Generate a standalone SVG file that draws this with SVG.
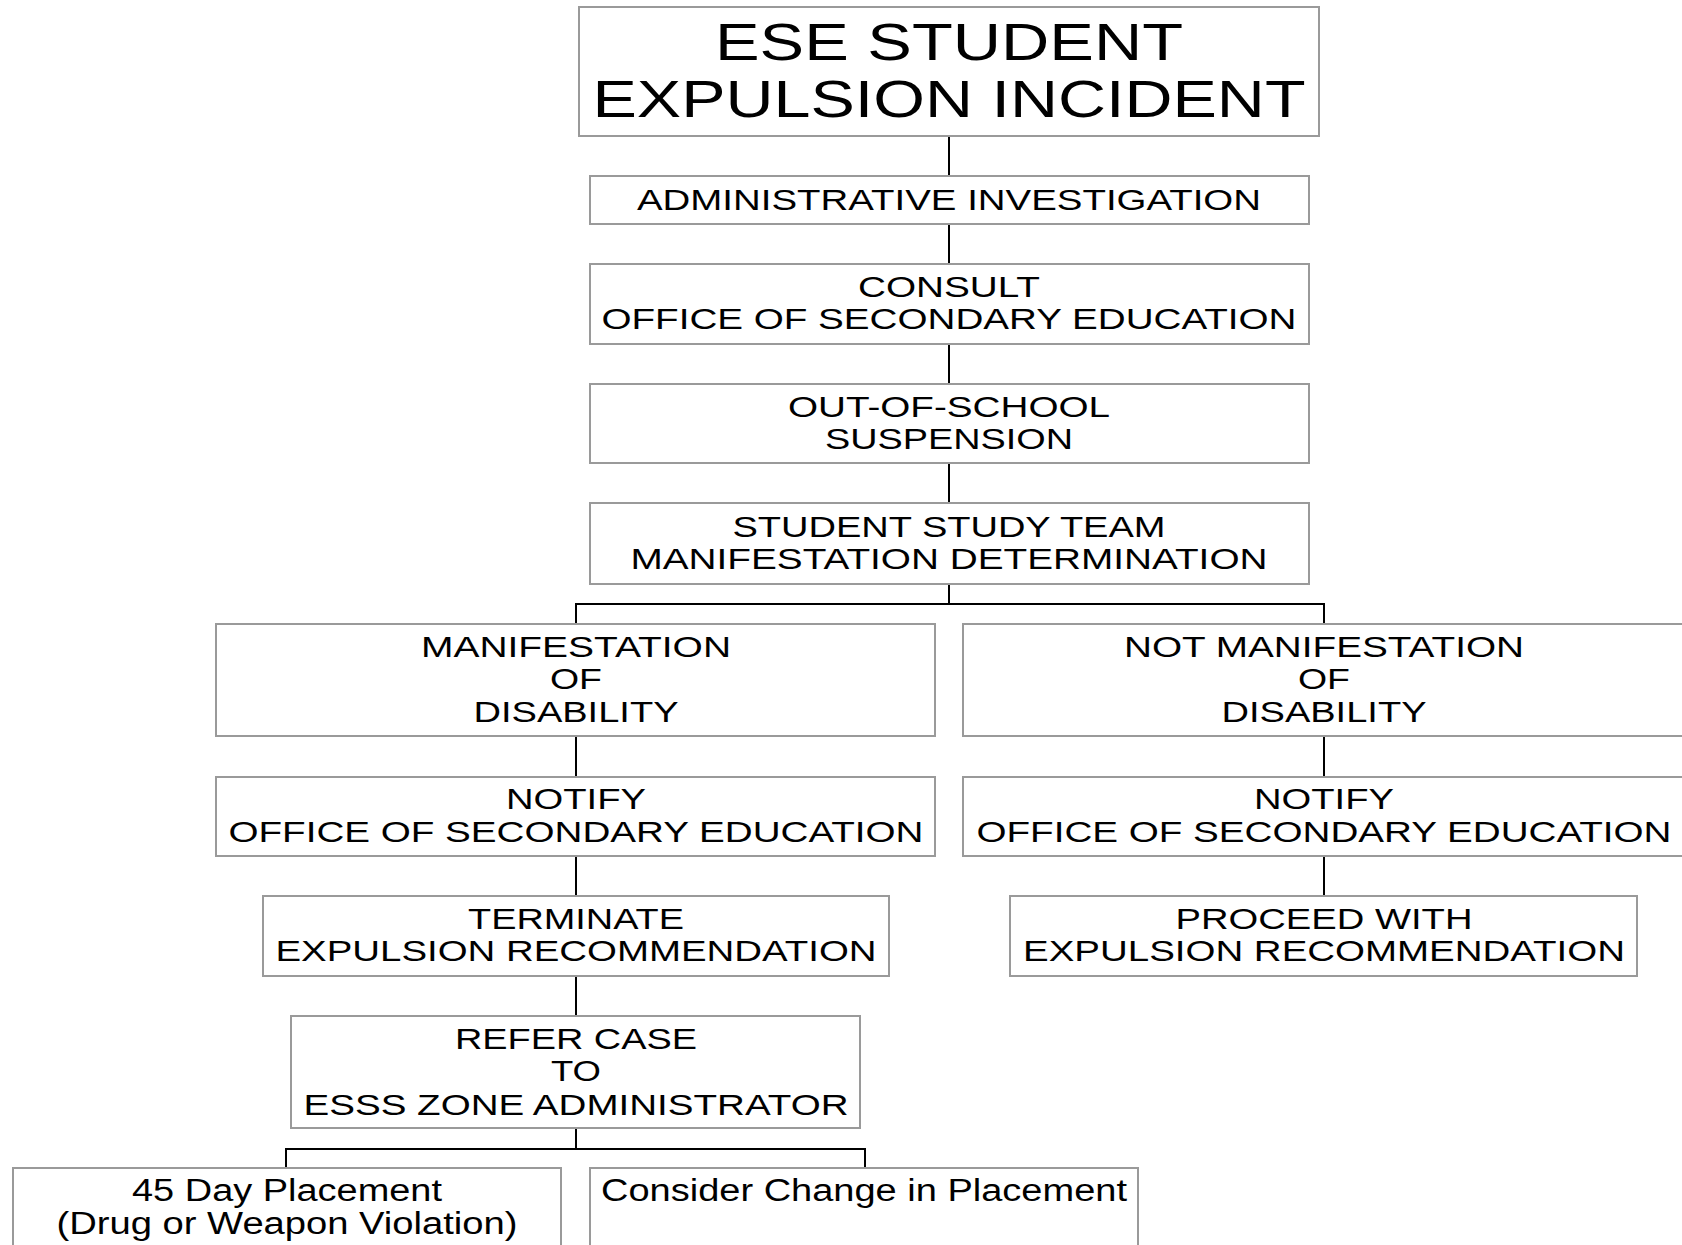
<svg xmlns="http://www.w3.org/2000/svg" width="1682" height="1245" viewBox="0 0 1682 1245">
  <style>
    .box { fill: #ffffff; stroke: #9a9a9a; stroke-width: 2; }
    .wire { fill: none; stroke: #000000; stroke-width: 2; }
    text { font-family: "Liberation Sans", Arial, sans-serif; fill: #000000; text-anchor: middle; }
    .t { font-size: 30px; }
    .title { font-size: 52px; }
    .low { font-size: 31px; }
  </style>
  <rect width="1682" height="1245" fill="#ffffff"/>

  <!-- connectors -->
  <g id="connectors">
    <path class="wire" d="M949 136V176M949 224V264M949 344V384M949 463V503M949 584V604"/>
    <path class="wire" d="M576 624V604H1324V624"/>
    <path class="wire" d="M576 736V777M576 856V896M576 976V1016M576 1128V1149"/>
    <path class="wire" d="M1324 736V777M1324 856V896"/>
    <path class="wire" d="M286 1168V1149H865V1168"/>
  </g>

  <g id="incident">
    <rect class="box" x="579" y="7" width="740" height="129"/>
    <text class="title" x="949" y="60" textLength="468" lengthAdjust="spacingAndGlyphs">ESE STUDENT</text>
    <text class="title" x="949" y="117" textLength="713" lengthAdjust="spacingAndGlyphs">EXPULSION INCIDENT</text>
  </g>

  <g id="investigation">
    <rect class="box" x="590" y="176" width="719" height="48"/>
    <text class="t" x="949" y="210" textLength="624" lengthAdjust="spacingAndGlyphs">ADMINISTRATIVE INVESTIGATION</text>
  </g>

  <g id="consult">
    <rect class="box" x="590" y="264" width="719" height="80"/>
    <text class="t" x="949" y="297" textLength="182" lengthAdjust="spacingAndGlyphs">CONSULT</text>
    <text class="t" x="949" y="329" textLength="695" lengthAdjust="spacingAndGlyphs">OFFICE OF SECONDARY EDUCATION</text>
  </g>

  <g id="suspension">
    <rect class="box" x="590" y="384" width="719" height="79"/>
    <text class="t" x="949" y="417" textLength="322" lengthAdjust="spacingAndGlyphs">OUT-OF-SCHOOL</text>
    <text class="t" x="949" y="449" textLength="248" lengthAdjust="spacingAndGlyphs">SUSPENSION</text>
  </g>

  <g id="study-team">
    <rect class="box" x="590" y="503" width="719" height="81"/>
    <text class="t" x="949" y="537" textLength="433" lengthAdjust="spacingAndGlyphs">STUDENT STUDY TEAM</text>
    <text class="t" x="949" y="569" textLength="637" lengthAdjust="spacingAndGlyphs">MANIFESTATION DETERMINATION</text>
  </g>

  <g id="manifestation">
    <rect class="box" x="216" y="624" width="719" height="112"/>
    <text class="t" x="576" y="657" textLength="310" lengthAdjust="spacingAndGlyphs">MANIFESTATION</text>
    <text class="t" x="576" y="689" textLength="52" lengthAdjust="spacingAndGlyphs">OF</text>
    <text class="t" x="576" y="722" textLength="205" lengthAdjust="spacingAndGlyphs">DISABILITY</text>
  </g>

  <g id="not-manifestation">
    <rect class="box" x="963" y="624" width="722" height="112"/>
    <text class="t" x="1324" y="657" textLength="400" lengthAdjust="spacingAndGlyphs">NOT MANIFESTATION</text>
    <text class="t" x="1324" y="689" textLength="52" lengthAdjust="spacingAndGlyphs">OF</text>
    <text class="t" x="1324" y="722" textLength="205" lengthAdjust="spacingAndGlyphs">DISABILITY</text>
  </g>

  <g id="notify-left">
    <rect class="box" x="216" y="777" width="719" height="79"/>
    <text class="t" x="576" y="809" textLength="140" lengthAdjust="spacingAndGlyphs">NOTIFY</text>
    <text class="t" x="576" y="842" textLength="695" lengthAdjust="spacingAndGlyphs">OFFICE OF SECONDARY EDUCATION</text>
  </g>

  <g id="notify-right">
    <rect class="box" x="963" y="777" width="722" height="79"/>
    <text class="t" x="1324" y="809" textLength="140" lengthAdjust="spacingAndGlyphs">NOTIFY</text>
    <text class="t" x="1324" y="842" textLength="695" lengthAdjust="spacingAndGlyphs">OFFICE OF SECONDARY EDUCATION</text>
  </g>

  <g id="terminate">
    <rect class="box" x="263" y="896" width="626" height="80"/>
    <text class="t" x="576" y="929" textLength="216" lengthAdjust="spacingAndGlyphs">TERMINATE</text>
    <text class="t" x="576" y="961" textLength="601" lengthAdjust="spacingAndGlyphs">EXPULSION RECOMMENDATION</text>
  </g>

  <g id="proceed">
    <rect class="box" x="1010" y="896" width="627" height="80"/>
    <text class="t" x="1324" y="929" textLength="297" lengthAdjust="spacingAndGlyphs">PROCEED WITH</text>
    <text class="t" x="1324" y="961" textLength="602" lengthAdjust="spacingAndGlyphs">EXPULSION RECOMMENDATION</text>
  </g>

  <g id="refer">
    <rect class="box" x="291" y="1016" width="569" height="112"/>
    <text class="t" x="576" y="1049" textLength="242" lengthAdjust="spacingAndGlyphs">REFER CASE</text>
    <text class="t" x="576" y="1081" textLength="50" lengthAdjust="spacingAndGlyphs">TO</text>
    <text class="t" x="576" y="1115" textLength="545" lengthAdjust="spacingAndGlyphs">ESSS ZONE ADMINISTRATOR</text>
  </g>

  <g id="placement-45">
    <rect class="box" x="13" y="1168" width="548" height="90"/>
    <text class="low" x="287" y="1201" textLength="310" lengthAdjust="spacingAndGlyphs">45 Day Placement</text>
    <text class="low" x="287" y="1234" textLength="461" lengthAdjust="spacingAndGlyphs">(Drug or Weapon Violation)</text>
  </g>

  <g id="change-placement">
    <rect class="box" x="590" y="1168" width="548" height="90"/>
    <text class="low" x="864" y="1201" textLength="526" lengthAdjust="spacingAndGlyphs">Consider Change in Placement</text>
  </g>
</svg>
